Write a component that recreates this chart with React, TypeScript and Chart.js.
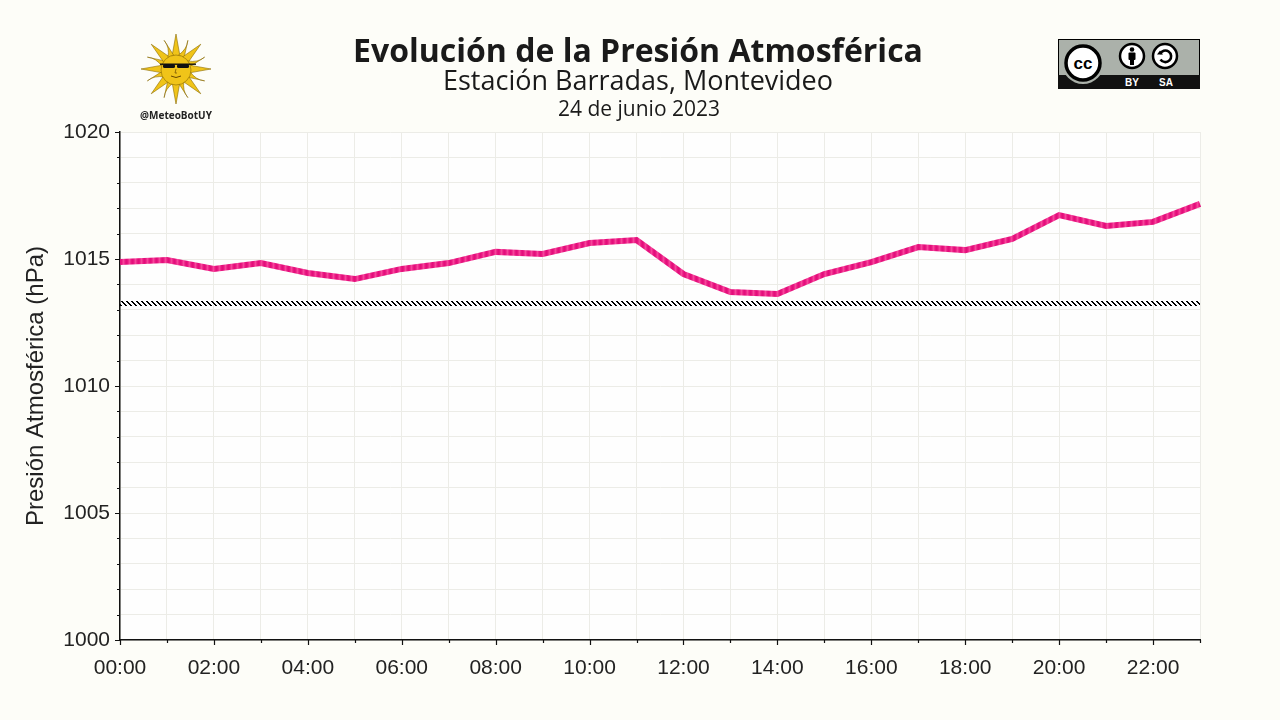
import React, { useEffect, useRef } from "react";
import { Chart, registerables } from "chart.js";

Chart.register(...registerables);

// ---- data ----
const hours: string[] = [
  "00:00", "01:00", "02:00", "03:00", "04:00", "05:00", "06:00", "07:00",
  "08:00", "09:00", "10:00", "11:00", "12:00", "13:00", "14:00", "15:00",
  "16:00", "17:00", "18:00", "19:00", "20:00", "21:00", "22:00", "23:00",
];
const pressure: number[] = [
  1014.88, 1014.96, 1014.61, 1014.84, 1014.45, 1014.21, 1014.61, 1014.84,
  1015.28, 1015.2, 1015.63, 1015.75, 1014.41, 1013.7, 1013.62, 1014.41,
  1014.88, 1015.47, 1015.35, 1015.79, 1016.73, 1016.3, 1016.46, 1017.17,
];
const STANDARD_PRESSURE = 1013.25;
const standardLine: number[] = hours.map(() => STANDARD_PRESSURE);
const Y_MIN = 1000;
const Y_MAX = 1020;
const titleText = "Evolución de la Presión Atmosférica";
const subtitleText = "Estación Barradas, Montevideo";
const dateText = "24 de junio 2023";
const yAxisTitle = "Presión Atmosférica (hPa)";

const PAGE_BG = "#fdfdf8";

function makeStripePattern(): CanvasPattern | string {
  const c = document.createElement("canvas");
  const cols = ["#e20f7a", "#e81581", "#ef2c8d", "#f5469b", "#ef2c8d", "#e81581"];
  c.width = cols.length;
  c.height = 1;
  const g = c.getContext("2d")!;
  cols.forEach((col, i) => {
    g.fillStyle = col;
    g.fillRect(i, 0, 1, 1);
  });
  return g.createPattern(c, "repeat") || "#ec1e86";
}

function makeHatchPattern(): CanvasPattern | string {
  const s = 5;
  const c = document.createElement("canvas");
  c.width = s;
  c.height = s;
  const g = c.getContext("2d")!;
  g.fillStyle = "#000";
  for (let i = 0; i < s; i++) {
    g.fillRect(i, i, 1, 1);
    g.fillRect((i + 1) % s, i, 1, 1);
  }
  return g.createPattern(c, "repeat") || "#000";
}

const bgPlugin = {
  id: "bgPlugin",
  beforeDraw(chart: any) {
    const { ctx, chartArea } = chart;
    ctx.save();
    ctx.fillStyle = PAGE_BG;
    ctx.fillRect(0, 0, chart.width, chart.height);
    ctx.fillStyle = "#fefefe";
    ctx.fillRect(chartArea.left, chartArea.top, chartArea.right - chartArea.left, chartArea.bottom - chartArea.top);
    ctx.restore();
  },
};

const tickMarks = {
  id: "tickMarks",
  afterDraw(chart: any) {
    const { ctx, chartArea, scales } = chart;
    const y = scales.y;
    const x = scales.x;
    ctx.save();
    ctx.strokeStyle = "#111";
    ctx.lineWidth = 1.2;
    ctx.beginPath();
    for (let v = Y_MIN; v <= Y_MAX; v += 1) {
      const py = Math.round(y.getPixelForValue(v)) + 0.5;
      const len = v % 5 === 0 ? 5 : 3;
      ctx.moveTo(chartArea.left, py);
      ctx.lineTo(chartArea.left - len, py);
    }
    hours.forEach((_h, i) => {
      const px = Math.round(x.getPixelForValue(i)) + 0.5;
      const len = i % 2 === 0 ? 5 : 3;
      ctx.moveTo(px, chartArea.bottom);
      ctx.lineTo(px, chartArea.bottom + len);
    });
    ctx.stroke();
    ctx.restore();
  },
};

function SunLogo() {
  const cx = 36, cy = 35;
  const rays: React.ReactNode[] = [];
  const n = 16;
  for (let i = 0; i < n; i++) {
    const a = (i / n) * Math.PI * 2 - Math.PI / 2;
    const long = i % 2 === 0;
    const R = long ? 35 : 31;
    const r0 = 14;
    const w = long ? 0.2 : 0.16;
    const p1 = [cx + r0 * Math.cos(a - w * 1.4), cy + r0 * Math.sin(a - w * 1.4)];
    const p2 = [cx + R * Math.cos(a), cy + R * Math.sin(a)];
    const p3 = [cx + r0 * Math.cos(a + w * 1.4), cy + r0 * Math.sin(a + w * 1.4)];
    const pm = [cx + (r0 + R) * 0.5 * Math.cos(a + 0.12), cy + (r0 + R) * 0.5 * Math.sin(a + 0.12)];
    rays.push(
      <path
        key={i}
        d={long
          ? `M${p1[0]},${p1[1]} L${p2[0]},${p2[1]} L${p3[0]},${p3[1]} Z`
          : `M${p1[0]},${p1[1]} Q${pm[0]},${pm[1]} ${p2[0]},${p2[1]} L${p3[0]},${p3[1]} Z`}
        fill="#f0c419"
        stroke="#8a6a00"
        strokeWidth={0.6}
      />
    );
  }
  return (
    <svg width={72} height={72} viewBox="0 0 72 72">
      {rays}
      <circle cx={cx} cy={cy + 1} r={15} fill="#f0c419" stroke="#8a6a00" strokeWidth={0.6} />
      <rect x={23} y={30} width={12} height={4} rx={1.5} fill="#111" />
      <rect x={37} y={30} width={12} height={4} rx={1.5} fill="#111" />
      <rect x={20} y={29.5} width={36} height={1.4} fill="#111" />
      <path d="M31,42 Q36,45 41,42" stroke="#6a4a00" strokeWidth={1} fill="none" />
      <path d="M36,35 L35,39 L37,39" stroke="#6a4a00" strokeWidth={0.7} fill="none" />
    </svg>
  );
}

function CCBadge() {
  return (
    <svg width={142} height={50} viewBox="0 0 142 50">
      <rect x={0.5} y={0.5} width={141} height={49} fill="#abb1aa" stroke="#000" strokeWidth={1} />
      <rect x={0} y={36} width={142} height={14} fill="#111" />
      <circle cx={25} cy={24} r={21} fill="#abb1aa" />
      <circle cx={25} cy={24} r={17} fill="#fff" stroke="#000" strokeWidth={3.5} />
      <text x={25} y={30} textAnchor="middle" fontFamily="Liberation Sans" fontWeight="bold" fontSize={17} fill="#000">cc</text>
      <circle cx={74} cy={17} r={12} fill="#fff" stroke="#000" strokeWidth={2.5} />
      <circle cx={74} cy={10.5} r={2.3} fill="#000" />
      <rect x={70.5} y={13.5} width={7} height={7.5} rx={1} fill="#000" />
      <rect x={72} y={20} width={4} height={6} fill="#000" />
      <circle cx={107} cy={17} r={12} fill="#fff" stroke="#000" strokeWidth={2.5} />
      <path d="M102,15 A5.8,5.8 0 1 1 102.5,20.5" stroke="#000" strokeWidth={2.6} fill="none" />
      <path d="M99,15.5 L105,15.5 L102,11.5 Z" fill="#000" />
      <text x={74} y={47} textAnchor="middle" fontFamily="Liberation Sans" fontWeight="bold" fontSize={10} fill="#fff">BY</text>
      <text x={108} y={47} textAnchor="middle" fontFamily="Liberation Sans" fontWeight="bold" fontSize={10} fill="#fff">SA</text>
    </svg>
  );
}

export default function App() {
  const canvasRef = useRef<HTMLCanvasElement | null>(null);

  useEffect(() => {
    document.body.style.margin = "0";
    document.body.style.background = PAGE_BG;
    const canvas = canvasRef.current!;
    Chart.defaults.font.family = "'Liberation Sans', Arial, sans-serif";
    const chart = new Chart(canvas, {
      type: "line",
      data: {
        labels: hours,
        datasets: [
          {
            label: "Presión",
            data: pressure,
            borderColor: makeStripePattern() as any,
            borderWidth: 6,
            pointRadius: 0,
            tension: 0,
            borderJoinStyle: "miter",
            borderCapStyle: "butt",
          },
          {
            label: "1013.25",
            data: standardLine,
            borderColor: makeHatchPattern() as any,
            borderWidth: 5,
            pointRadius: 0,
            tension: 0,
            borderCapStyle: "butt",
          },
        ],
      },
      options: {
        responsive: false,
        animation: false,
        devicePixelRatio: 1,
        layout: { padding: { top: 132, right: 80, left: 0, bottom: 0 } },
        plugins: {
          legend: { display: false },
          tooltip: { enabled: false },
          title: { display: false },
        },
        scales: {
          x: {
            type: "category",
            offset: false,
            grid: { color: "#ecece7", lineWidth: 1, drawTicks: false },
            border: { color: "#111", width: 1.5 },
            ticks: {
              autoSkip: false,
              maxRotation: 0,
              minRotation: 0,
              padding: 16,
              color: "#222",
              font: { size: 21 },
              callback: function (this: any, value: any, index: number) {
                return index % 2 === 0 ? hours[index] : "";
              },
            },
            afterFit(scale: any) {
              scale.height = 80;
            },
          },
          y: {
            type: "linear",
            min: Y_MIN,
            max: Y_MAX,
            grid: { color: "#ecece7", lineWidth: 1, drawTicks: false },
            border: { color: "#111", width: 1.5 },
            ticks: {
              stepSize: 1,
              autoSkip: false,
              padding: 10,
              color: "#222",
              font: { size: 21 },
              callback: (v: any) => (Number(v) % 5 === 0 ? String(v) : ""),
            },
            title: {
              display: true,
              text: yAxisTitle,
              color: "#222",
              font: { size: 24 },
              padding: { top: 22, bottom: 0 },
            },
            afterFit(scale: any) {
              scale.width = 120;
            },
          },
        },
      },
      plugins: [bgPlugin, tickMarks],
    });
    return () => chart.destroy();
  }, []);

  return (
    <div style={{ position: "relative", width: 1280, height: 720, background: PAGE_BG, overflow: "hidden" }}>
      <canvas ref={canvasRef} width={1280} height={720} style={{ display: "block", width: 1280, height: 720 }} />
      <div style={{ position: "absolute", left: 140, top: 34 }}>
        <SunLogo />
      </div>
      <div
        style={{
          position: "absolute", left: 126, top: 108, width: 100, textAlign: "center",
          fontFamily: "'Open Sans', sans-serif", fontWeight: 700, fontSize: 10, color: "#222",
        }}
      >
        @MeteoBotUY
      </div>
      <div style={{ position: "absolute", left: 1058, top: 39 }}>
        <CCBadge />
      </div>
      <div
        style={{
          position: "absolute", left: 0, width: 1276, top: 30, textAlign: "center",
          fontFamily: "'Open Sans', sans-serif", fontWeight: 700, fontSize: 32, color: "#1a1a1a", lineHeight: "40px",
        }}
      >
        {titleText}
      </div>
      <div
        style={{
          position: "absolute", left: 0, width: 1276, top: 63, textAlign: "center",
          fontFamily: "'Open Sans', sans-serif", fontWeight: 400, fontSize: 27, color: "#1a1a1a", lineHeight: "34px",
        }}
      >
        {subtitleText}
      </div>
      <div
        style={{
          position: "absolute", left: 0, width: 1278, top: 94, textAlign: "center",
          fontFamily: "'Open Sans', sans-serif", fontWeight: 400, fontSize: 21, color: "#1a1a1a", lineHeight: "28px",
        }}
      >
        {dateText}
      </div>
    </div>
  );
}
